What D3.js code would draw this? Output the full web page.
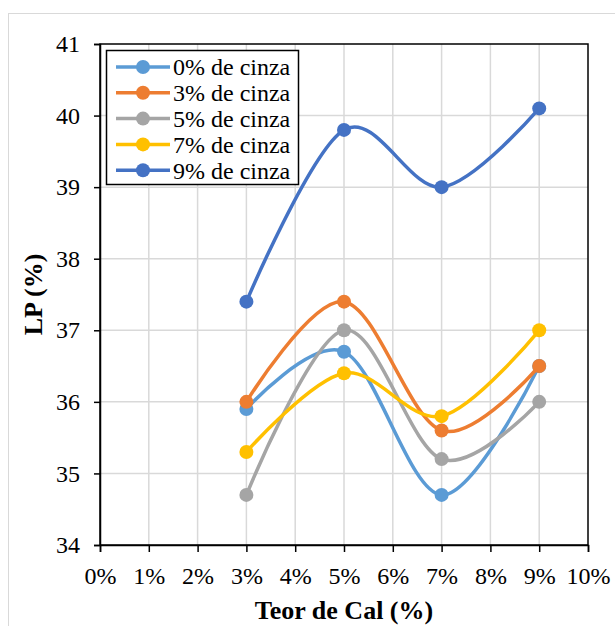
<!DOCTYPE html>
<html>
<head>
<meta charset="utf-8">
<script src="https://cdn.jsdelivr.net/npm/d3@7"></script>
<style>
  body { margin: 0; background: #fff; }
  svg { display: block; font-family: "Liberation Serif", "Times New Roman", serif; }
  svg text { font-family: "Liberation Serif", "Times New Roman", serif; }
</style>
</head>
<body>
<svg id="chart" width="615" height="626"></svg>
<script>
// data
const teorCal = [3, 5, 7, 9];
const seriesNames = ["0% de cinza", "3% de cinza", "5% de cinza", "7% de cinza", "9% de cinza"];
const cinza0 = [35.9, 36.7, 34.7, 36.5];
const cinza3 = [36.0, 37.4, 35.6, 36.5];
const cinza5 = [34.7, 37.0, 35.2, 36.0];
const cinza7 = [35.3, 36.4, 35.8, 37.0];
const cinza9 = [37.4, 39.8, 39.0, 40.1];
const colors = ["#5B9BD5", "#ED7D31", "#A5A5A5", "#FFC000", "#4472C4"];
const xTicks = d3.range(0, 11);
const yTicks = d3.range(34, 42);

const allSeries = [cinza0, cinza3, cinza5, cinza7, cinza9];

const svg = d3.select("#chart");

// outer chart frame
svg.append("rect")
  .attr("x", 8.5).attr("y", 13.5)
  .attr("width", 620).attr("height", 630)
  .attr("fill", "none").attr("stroke", "#d9d9d9");

const margin = { left: 100, right: 27, top: 44, bottom: 81 };
const width = 615 - margin.left - margin.right;
const height = 626 - margin.top - margin.bottom;

const x = d3.scaleLinear().domain([0, 10]).range([0, width]);
const y = d3.scaleLinear().domain([34, 41]).range([height, 0]);

const g = svg.append("g").attr("transform", `translate(${margin.left},${margin.top})`);

// gridlines
g.append("g").selectAll("line").data(xTicks.slice(1, -1)).join("line")
  .attr("x1", d => x(d)).attr("x2", d => x(d))
  .attr("y1", 0).attr("y2", height)
  .attr("stroke", "#d9d9d9").attr("stroke-width", 1.5);
g.append("g").selectAll("line").data(yTicks.slice(1, -1)).join("line")
  .attr("x1", 0).attr("x2", width)
  .attr("y1", d => y(d)).attr("y2", d => y(d))
  .attr("stroke", "#d9d9d9").attr("stroke-width", 1.5);

// plot frame
g.append("rect").attr("x", 0).attr("y", 0).attr("width", width).attr("height", height)
  .attr("fill", "none").attr("stroke", "#000").attr("stroke-width", 1.5);

// axes
const xAxis = g.append("g").attr("transform", `translate(0,${height})`)
  .call(d3.axisBottom(x).tickValues(xTicks).tickFormat(d => d + "%").tickSize(7).tickPadding(15));
const yAxis = g.append("g")
  .call(d3.axisLeft(y).tickValues(yTicks).tickFormat(d3.format("d")).tickSize(6).tickPadding(14));
[xAxis, yAxis].forEach(a => {
  a.attr("font-family", null).attr("font-size", null);
  a.select(".domain").attr("stroke", "#000").attr("stroke-width", 1.5);
  a.selectAll(".tick line").attr("stroke", "#000").attr("stroke-width", 1.5);
  a.selectAll("text").attr("fill", "#000").style("font-size", "24px");
});

// lines
const line = d3.line()
  .x((d, i) => x(teorCal[i]))
  .y(d => y(d))
  .curve(d3.curveCardinal.tension(0));

allSeries.forEach((s, k) => {
  g.append("path").datum(s)
    .attr("d", line)
    .attr("fill", "none")
    .attr("stroke", colors[k])
    .attr("stroke-width", 3.5)
    .attr("stroke-linecap", "round");
  g.append("g").selectAll("circle").data(s).join("circle")
    .attr("cx", (d, i) => x(teorCal[i]))
    .attr("cy", d => y(d))
    .attr("r", 7)
    .attr("fill", colors[k]);
});

// axis titles
svg.append("text")
  .attr("x", margin.left + width / 2).attr("y", 619)
  .attr("text-anchor", "middle")
  .style("font-size", "26px").style("font-weight", "bold")
  .text("Teor de Cal (%)");
svg.append("text")
  .attr("transform", `translate(42,${margin.top + height / 2}) rotate(-90)`)
  .attr("text-anchor", "middle")
  .style("font-size", "26px").style("font-weight", "bold")
  .text("LP (%)");

// legend
const legend = svg.append("g").attr("transform", "translate(106,50)");
legend.append("rect").attr("x", 0.5).attr("y", 0.5).attr("width", 192).attr("height", 134)
  .attr("fill", "#fff").attr("stroke", "#000").attr("stroke-width", 1.5);
seriesNames.forEach((name, k) => {
  const ly = 17 + k * 25.8;
  legend.append("line").attr("x1", 10).attr("x2", 64).attr("y1", ly).attr("y2", ly)
    .attr("stroke", colors[k]).attr("stroke-width", 3.5);
  legend.append("circle").attr("cx", 37).attr("cy", ly).attr("r", 7).attr("fill", colors[k]);
  legend.append("text").attr("x", 67).attr("y", ly).attr("dy", "0.35em")
    .style("font-size", "24px").text(name);
});
</script>
</body>
</html>
